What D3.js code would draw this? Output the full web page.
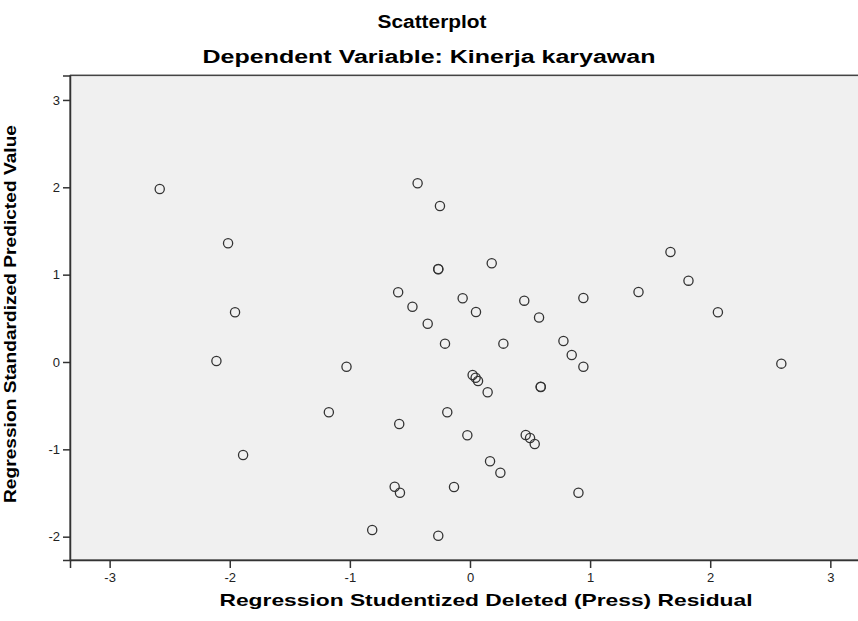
<!DOCTYPE html>
<html lang="en">
<head>
<meta charset="UTF-8">
<title>Scatterplot</title>
<style>
  body { margin: 0; background: #fff; }
  svg { display: block; font-family: "Liberation Sans", Arial, sans-serif; }
</style>
</head>
<body>
<script src="https://cdn.jsdelivr.net/npm/d3@7/dist/d3.min.js"></script>
<script>
// residual (x) and predicted value (y), one pair per case
var residual = [-2.583, -2.014, -1.956, -2.111, -1.889, -1.028, -1.175, -0.436, -0.250, -0.264,
                -0.264, 0.181, -0.598, -0.479, -0.061, -0.352, 0.050, 0.452, 0.575, 0.944,
                -0.208, 0.278, 0.778, 0.847, 0.944, 0.022, 0.047, 0.067, 0.147, 0.589,
                0.589, -0.589, -0.189, -0.022, 0.464, 0.500, 0.539, 0.167, 0.253, -0.627,
                -0.583, -0.133, 0.903, -0.814, -0.264, 1.403, 1.669, 1.819, 2.064, 2.592];
var predicted = [1.981, 1.359, 0.569, 0.011, -1.065, -0.054, -0.576, 2.046, 1.786, 1.061,
                 1.065, 1.130, 0.798, 0.633, 0.730, 0.437, 0.573, 0.702, 0.510, 0.733,
                 0.210, 0.210, 0.240, 0.080, -0.054, -0.149, -0.180, -0.218, -0.347, -0.283,
                 -0.286, -0.710, -0.576, -0.839, -0.836, -0.870, -0.939, -1.137, -1.268, -1.428,
                 -1.497, -1.431, -1.497, -1.924, -1.989, 0.802, 1.260, 0.931, 0.569, -0.019];
var xTicks = [-3, -2, -1, 0, 1, 2, 3];
var yTicks = [-2, -1, 0, 1, 2, 3];

var W = 858, H = 621;
var pLeft = 70, pRight = 900, pTop = 75.5, pBottom = 560;

var svg = d3.select("body").append("svg")
    .attr("width", W)
    .attr("height", H);

var x = d3.scaleLinear().domain([-3.33, 3.58]).range([pLeft, pRight]);
var y = d3.scaleLinear().domain([-2.267, 3.28]).range([pBottom, pTop]);

// plot background
svg.append("rect")
    .attr("x", pLeft).attr("y", pTop - 1.5)
    .attr("width", pRight - pLeft).attr("height", 1.5)
    .attr("fill", "#b8b8b8");
svg.append("rect")
    .attr("x", pLeft).attr("y", pTop)
    .attr("width", pRight - pLeft).attr("height", pBottom - pTop)
    .attr("fill", "#f0f0f0")
    .attr("stroke", "#444")
    .attr("stroke-width", 1.2);

// axes
var fmt = function(d) { return String(d); };
var xAxis = d3.axisBottom(x).tickValues(xTicks).tickSize(8).tickFormat(fmt);
var yAxis = d3.axisLeft(y).tickValues(yTicks).tickSize(7).tickFormat(fmt);

var gx = svg.append("g").attr("transform", "translate(0," + pBottom + ")").call(xAxis);
var gy = svg.append("g").attr("transform", "translate(" + pLeft + ",0)").call(yAxis);

[gx, gy].forEach(function(g) {
    g.select(".domain").attr("stroke", "#333").attr("stroke-width", 1.5);
    g.selectAll(".tick line").attr("stroke", "#333").attr("stroke-width", 1.5);
    g.selectAll(".tick text")
        .attr("fill", "#222")
        .attr("font-size", "13px")
        .attr("font-family", "Liberation Sans, Arial, sans-serif");
});
gx.selectAll(".tick text").attr("y", 13);
gy.selectAll(".tick text").attr("x", -10);

// points
svg.append("g").selectAll("circle")
    .data(residual)
    .enter()
    .append("circle")
    .attr("cx", function(d) { return x(d); })
    .attr("cy", function(d, i) { return y(predicted[i]); })
    .attr("r", 4.6)
    .attr("fill", "none")
    .attr("stroke", "#333")
    .attr("stroke-width", 1.3);

// titles
svg.append("text")
    .attr("x", 432).attr("y", 28)
    .attr("text-anchor", "middle")
    .attr("font-size", "18px").attr("font-weight", "bold")
    .attr("textLength", 109).attr("lengthAdjust", "spacingAndGlyphs")
    .text("Scatterplot");
svg.append("text")
    .attr("x", 429).attr("y", 63)
    .attr("text-anchor", "middle")
    .attr("font-size", "18px").attr("font-weight", "bold")
    .attr("textLength", 453).attr("lengthAdjust", "spacingAndGlyphs")
    .text("Dependent Variable: Kinerja karyawan");
svg.append("text")
    .attr("x", 486).attr("y", 606)
    .attr("text-anchor", "middle")
    .attr("font-size", "17px").attr("font-weight", "bold")
    .attr("textLength", 533).attr("lengthAdjust", "spacingAndGlyphs")
    .text("Regression Studentized Deleted (Press) Residual");
svg.append("text")
    .attr("transform", "translate(16,314) rotate(-90)")
    .attr("text-anchor", "middle")
    .attr("font-size", "17px").attr("font-weight", "bold")
    .attr("textLength", 378).attr("lengthAdjust", "spacingAndGlyphs")
    .text("Regression Standardized Predicted Value");
</script>
</body>
</html>
